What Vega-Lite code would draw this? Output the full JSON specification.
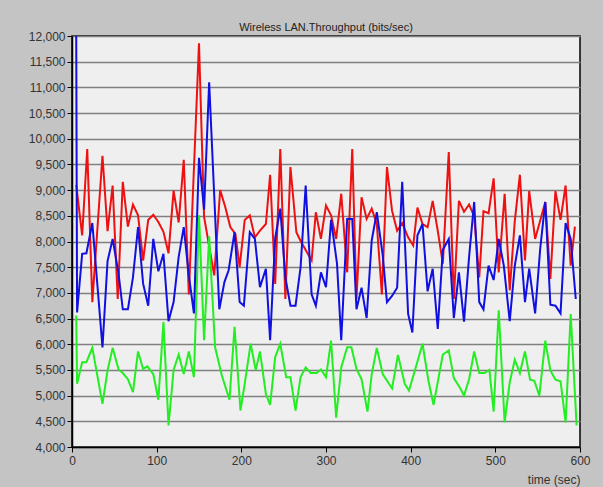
{
  "$schema": "https://vega.github.io/schema/vega-lite/v6.json",
  "autosize": "none",
  "width": 508,
  "height": 411,
  "padding": {"left": 72, "top": 36, "right": 23, "bottom": 40},
  "background": "#c4c4c4",
  "view": {"fill": "#efefef", "stroke": "#000000", "strokeWidth": 1.5},
  "title": {"text": "Wireless LAN.Throughput (bits/sec)", "fontSize": 11, "font": "Liberation Sans", "fontWeight": "normal", "color": "#222222", "offset": 1, "dy": 4, "anchor": "middle"},
  "config": {
    "axis": {"labelFont": "Liberation Sans", "labelFontSize": 12, "labelColor": "#333333", "domainColor": "#000000", "domainWidth": 1.5, "tickColor": "#000000", "tickSize": 5, "titleFont": "Liberation Sans", "titleFontWeight": "normal", "titleFontSize": 12, "titleColor": "#333333"}
  },
  "datasets": {
    "red": [
      {"t": 5, "v": 9100}, {"t": 12, "v": 8120}, {"t": 18, "v": 9800}, {"t": 24, "v": 6820}, {"t": 36, "v": 9670}, {"t": 42, "v": 8200}, {"t": 48, "v": 9090}, {"t": 54, "v": 6880}, {"t": 60, "v": 9160}, {"t": 66, "v": 8290}, {"t": 72, "v": 8720}, {"t": 78, "v": 8510}, {"t": 84, "v": 7630}, {"t": 90, "v": 8420}, {"t": 96, "v": 8520}, {"t": 102, "v": 8380}, {"t": 108, "v": 8190}, {"t": 114, "v": 7770}, {"t": 120, "v": 8990}, {"t": 126, "v": 8370}, {"t": 132, "v": 9590}, {"t": 138, "v": 6970}, {"t": 150, "v": 11860}, {"t": 156, "v": 8480}, {"t": 168, "v": 7340}, {"t": 175, "v": 9000}, {"t": 181, "v": 8670}, {"t": 187, "v": 8280}, {"t": 193, "v": 8150}, {"t": 198, "v": 7500}, {"t": 204, "v": 8420}, {"t": 210, "v": 8510}, {"t": 216, "v": 8080}, {"t": 222, "v": 8210}, {"t": 229, "v": 8340}, {"t": 234, "v": 9300}, {"t": 240, "v": 7175}, {"t": 246, "v": 9800}, {"t": 252, "v": 6880}, {"t": 258, "v": 9450}, {"t": 265, "v": 8180}, {"t": 270, "v": 8010}, {"t": 283, "v": 7630}, {"t": 288, "v": 8570}, {"t": 294, "v": 8050}, {"t": 300, "v": 8700}, {"t": 306, "v": 8510}, {"t": 312, "v": 8050}, {"t": 318, "v": 8930}, {"t": 325, "v": 7400}, {"t": 331, "v": 9800}, {"t": 336, "v": 6880}, {"t": 342, "v": 8860}, {"t": 348, "v": 8440}, {"t": 354, "v": 8640}, {"t": 360, "v": 8340}, {"t": 366, "v": 6970}, {"t": 372, "v": 9450}, {"t": 378, "v": 8600}, {"t": 384, "v": 8210}, {"t": 390, "v": 8360}, {"t": 397, "v": 8080}, {"t": 403, "v": 7920}, {"t": 408, "v": 8660}, {"t": 414, "v": 8340}, {"t": 420, "v": 8280}, {"t": 426, "v": 8790}, {"t": 432, "v": 8210}, {"t": 438, "v": 7570}, {"t": 445, "v": 9740}, {"t": 451, "v": 6880}, {"t": 457, "v": 8790}, {"t": 463, "v": 8580}, {"t": 469, "v": 8720}, {"t": 475, "v": 8490}, {"t": 481, "v": 7300}, {"t": 486, "v": 8590}, {"t": 492, "v": 8550}, {"t": 498, "v": 9230}, {"t": 504, "v": 7400}, {"t": 511, "v": 8930}, {"t": 517, "v": 7050}, {"t": 523, "v": 8400}, {"t": 529, "v": 9300}, {"t": 535, "v": 7630}, {"t": 540, "v": 8980}, {"t": 547, "v": 8050}, {"t": 553, "v": 8410}, {"t": 559, "v": 8770}, {"t": 565, "v": 7270}, {"t": 571, "v": 8980}, {"t": 577, "v": 8420}, {"t": 583, "v": 9090}, {"t": 589, "v": 7530}, {"t": 594, "v": 8290}
    ],
    "green": [
      {"t": 5, "v": 6560}, {"t": 6, "v": 5230}, {"t": 12, "v": 5650}, {"t": 17, "v": 5650}, {"t": 24, "v": 5930}, {"t": 36, "v": 4840}, {"t": 42, "v": 5490}, {"t": 48, "v": 5930}, {"t": 55, "v": 5510}, {"t": 60, "v": 5440}, {"t": 66, "v": 5320}, {"t": 72, "v": 5070}, {"t": 78, "v": 5860}, {"t": 84, "v": 5520}, {"t": 89, "v": 5570}, {"t": 96, "v": 5420}, {"t": 102, "v": 4920}, {"t": 108, "v": 6430}, {"t": 114, "v": 4420}, {"t": 120, "v": 5500}, {"t": 126, "v": 5800}, {"t": 132, "v": 5420}, {"t": 138, "v": 5860}, {"t": 144, "v": 5360}, {"t": 150, "v": 8510}, {"t": 156, "v": 6080}, {"t": 162, "v": 8100}, {"t": 169, "v": 5940}, {"t": 177, "v": 5390}, {"t": 186, "v": 4920}, {"t": 192, "v": 6340}, {"t": 199, "v": 4710}, {"t": 204, "v": 5230}, {"t": 211, "v": 6010}, {"t": 217, "v": 5500}, {"t": 222, "v": 5860}, {"t": 229, "v": 5030}, {"t": 234, "v": 4820}, {"t": 240, "v": 5750}, {"t": 246, "v": 6010}, {"t": 253, "v": 5360}, {"t": 258, "v": 5360}, {"t": 264, "v": 4710}, {"t": 270, "v": 5360}, {"t": 276, "v": 5550}, {"t": 282, "v": 5440}, {"t": 289, "v": 5440}, {"t": 294, "v": 5510}, {"t": 300, "v": 5360}, {"t": 306, "v": 6070}, {"t": 312, "v": 4570}, {"t": 318, "v": 5550}, {"t": 325, "v": 5940}, {"t": 330, "v": 5940}, {"t": 336, "v": 5520}, {"t": 342, "v": 5320}, {"t": 349, "v": 4690}, {"t": 354, "v": 5420}, {"t": 360, "v": 5930}, {"t": 367, "v": 5420}, {"t": 378, "v": 5140}, {"t": 385, "v": 5790}, {"t": 393, "v": 5230}, {"t": 398, "v": 5100}, {"t": 405, "v": 5490}, {"t": 414, "v": 6010}, {"t": 421, "v": 5290}, {"t": 427, "v": 4820}, {"t": 438, "v": 5800}, {"t": 445, "v": 5880}, {"t": 451, "v": 5340}, {"t": 458, "v": 5160}, {"t": 463, "v": 5000}, {"t": 469, "v": 5320}, {"t": 475, "v": 5860}, {"t": 481, "v": 5440}, {"t": 487, "v": 5440}, {"t": 493, "v": 5500}, {"t": 498, "v": 4690}, {"t": 504, "v": 6660}, {"t": 511, "v": 4480}, {"t": 517, "v": 5260}, {"t": 523, "v": 5700}, {"t": 529, "v": 5440}, {"t": 535, "v": 5860}, {"t": 541, "v": 5310}, {"t": 546, "v": 5290}, {"t": 552, "v": 5000}, {"t": 559, "v": 6070}, {"t": 565, "v": 5490}, {"t": 571, "v": 5310}, {"t": 577, "v": 5280}, {"t": 583, "v": 4480}, {"t": 589, "v": 6590}, {"t": 596, "v": 4420}
    ],
    "blue": [
      {"t": 5, "v": 12000}, {"t": 6, "v": 6620}, {"t": 12, "v": 7760}, {"t": 17, "v": 7770}, {"t": 24, "v": 8360}, {"t": 36, "v": 5940}, {"t": 42, "v": 7620}, {"t": 48, "v": 8050}, {"t": 55, "v": 7370}, {"t": 60, "v": 6680}, {"t": 66, "v": 6680}, {"t": 72, "v": 7300}, {"t": 78, "v": 8280}, {"t": 84, "v": 7180}, {"t": 90, "v": 6750}, {"t": 96, "v": 8050}, {"t": 102, "v": 7420}, {"t": 108, "v": 7760}, {"t": 114, "v": 6450}, {"t": 120, "v": 6820}, {"t": 126, "v": 7700}, {"t": 132, "v": 8280}, {"t": 138, "v": 7340}, {"t": 144, "v": 6600}, {"t": 150, "v": 9630}, {"t": 156, "v": 8620}, {"t": 162, "v": 11100}, {"t": 174, "v": 6680}, {"t": 180, "v": 7210}, {"t": 185, "v": 7440}, {"t": 192, "v": 8180}, {"t": 198, "v": 6820}, {"t": 203, "v": 6750}, {"t": 210, "v": 8180}, {"t": 216, "v": 8050}, {"t": 222, "v": 7110}, {"t": 229, "v": 7470}, {"t": 234, "v": 6080}, {"t": 240, "v": 8070}, {"t": 246, "v": 8640}, {"t": 252, "v": 7300}, {"t": 258, "v": 6750}, {"t": 264, "v": 6750}, {"t": 270, "v": 7500}, {"t": 276, "v": 9090}, {"t": 283, "v": 6970}, {"t": 288, "v": 6750}, {"t": 294, "v": 7400}, {"t": 300, "v": 7110}, {"t": 306, "v": 8420}, {"t": 313, "v": 7570}, {"t": 318, "v": 6080}, {"t": 325, "v": 8440}, {"t": 331, "v": 8440}, {"t": 336, "v": 6680}, {"t": 342, "v": 7100}, {"t": 348, "v": 6510}, {"t": 354, "v": 8020}, {"t": 360, "v": 8570}, {"t": 367, "v": 7730}, {"t": 372, "v": 6820}, {"t": 378, "v": 6940}, {"t": 384, "v": 7100}, {"t": 390, "v": 9160}, {"t": 397, "v": 6590}, {"t": 402, "v": 6230}, {"t": 408, "v": 8120}, {"t": 414, "v": 8340}, {"t": 420, "v": 7030}, {"t": 426, "v": 7470}, {"t": 432, "v": 6300}, {"t": 438, "v": 7840}, {"t": 445, "v": 8050}, {"t": 451, "v": 6510}, {"t": 457, "v": 7400}, {"t": 463, "v": 6440}, {"t": 469, "v": 7700}, {"t": 475, "v": 8770}, {"t": 481, "v": 6820}, {"t": 486, "v": 6680}, {"t": 492, "v": 7530}, {"t": 498, "v": 7250}, {"t": 504, "v": 8050}, {"t": 510, "v": 7530}, {"t": 517, "v": 6450}, {"t": 523, "v": 7530}, {"t": 529, "v": 8120}, {"t": 535, "v": 6820}, {"t": 540, "v": 7470}, {"t": 547, "v": 6600}, {"t": 553, "v": 7860}, {"t": 559, "v": 8770}, {"t": 565, "v": 6770}, {"t": 571, "v": 6750}, {"t": 577, "v": 6600}, {"t": 583, "v": 8360}, {"t": 589, "v": 8050}, {"t": 595, "v": 6880}
    ]
  },
  "encoding": {
    "x": {"field": "t", "type": "quantitative", "scale": {"domain": [0, 600], "nice": false, "zero": false},
      "axis": {"values": [0, 100, 200, 300, 400, 500, 600], "grid": false, "title": "time (sec)", "titleAnchor": "end", "titlePadding": 8, "labelPadding": 3, "labelFlush": false}},
    "y": {"field": "v", "type": "quantitative", "scale": {"domain": [4000, 12000], "nice": false, "zero": false},
      "axis": {"values": [4000, 4500, 5000, 5500, 6000, 6500, 7000, 7500, 8000, 8500, 9000, 9500, 10000, 10500, 11000, 11500, 12000], "format": ",.0f", "grid": true, "gridColor": "#808080", "gridWidth": 1.5, "gridOpacity": 1, "title": null, "labelPadding": 2}}
  },
  "layer": [
    {"data": {"name": "red"}, "mark": {"type": "line", "color": "#ee1111", "strokeWidth": 2, "clip": true}},
    {"data": {"name": "green"}, "mark": {"type": "line", "color": "#22ee22", "strokeWidth": 2, "clip": true}},
    {"data": {"name": "blue"}, "mark": {"type": "line", "color": "#1010e0", "strokeWidth": 2, "clip": true}}
  ]
}
